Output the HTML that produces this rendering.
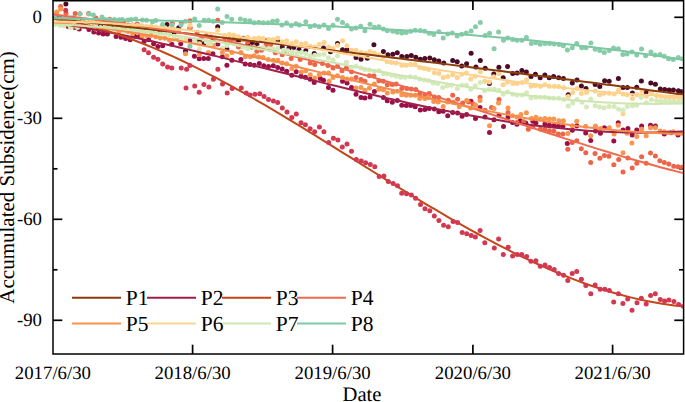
<!DOCTYPE html>
<html><head><meta charset="utf-8"><style>
html,body{margin:0;padding:0;background:#fff;}
svg{display:block;}
text{font-family:"Liberation Serif",serif;fill:#000;text-rendering:geometricPrecision;}
.tk{font-size:18.8px;}
.tt{font-size:20.6px;}
.yt{font-size:21px;}
.lg{font-size:21.5px;}
</style></head><body>
<svg width="685" height="402" viewBox="0 0 685 402">
<rect width="685" height="402" fill="#fff"/>
<line x1="53.0" y1="17.30" x2="62.3" y2="17.30" stroke="#000" stroke-width="1.7"/>
<line x1="683.6" y1="17.30" x2="674.3000000000001" y2="17.30" stroke="#000" stroke-width="1.7"/>
<line x1="53.0" y1="118.30" x2="62.3" y2="118.30" stroke="#000" stroke-width="1.7"/>
<line x1="683.6" y1="118.30" x2="674.3000000000001" y2="118.30" stroke="#000" stroke-width="1.7"/>
<line x1="53.0" y1="219.30" x2="62.3" y2="219.30" stroke="#000" stroke-width="1.7"/>
<line x1="683.6" y1="219.30" x2="674.3000000000001" y2="219.30" stroke="#000" stroke-width="1.7"/>
<line x1="53.0" y1="320.30" x2="62.3" y2="320.30" stroke="#000" stroke-width="1.7"/>
<line x1="683.6" y1="320.30" x2="674.3000000000001" y2="320.30" stroke="#000" stroke-width="1.7"/>
<line x1="53.0" y1="67.80" x2="57.5" y2="67.80" stroke="#000" stroke-width="1.7"/>
<line x1="683.6" y1="67.80" x2="679.1" y2="67.80" stroke="#000" stroke-width="1.7"/>
<line x1="53.0" y1="168.80" x2="57.5" y2="168.80" stroke="#000" stroke-width="1.7"/>
<line x1="683.6" y1="168.80" x2="679.1" y2="168.80" stroke="#000" stroke-width="1.7"/>
<line x1="53.0" y1="269.80" x2="57.5" y2="269.80" stroke="#000" stroke-width="1.7"/>
<line x1="683.6" y1="269.80" x2="679.1" y2="269.80" stroke="#000" stroke-width="1.7"/>
<line x1="192.6" y1="354.0" x2="192.6" y2="344.7" stroke="#000" stroke-width="1.7"/>
<line x1="192.6" y1="0.75" x2="192.6" y2="10.05" stroke="#000" stroke-width="1.7"/>
<line x1="332.6" y1="354.0" x2="332.6" y2="344.7" stroke="#000" stroke-width="1.7"/>
<line x1="332.6" y1="0.75" x2="332.6" y2="10.05" stroke="#000" stroke-width="1.7"/>
<line x1="472.9" y1="354.0" x2="472.9" y2="344.7" stroke="#000" stroke-width="1.7"/>
<line x1="472.9" y1="0.75" x2="472.9" y2="10.05" stroke="#000" stroke-width="1.7"/>
<line x1="612.6" y1="354.0" x2="612.6" y2="344.7" stroke="#000" stroke-width="1.7"/>
<line x1="612.6" y1="0.75" x2="612.6" y2="10.05" stroke="#000" stroke-width="1.7"/>
<defs><clipPath id="pc"><rect x="53.75" y="1.5" width="629.1" height="351.75"/></clipPath></defs>
<g clip-path="url(#pc)"><g fill="#4b0b26"><circle cx="65.9" cy="4.0" r="2.5"/><circle cx="167.0" cy="24.6" r="2.5"/><circle cx="185.5" cy="51.1" r="2.5"/><circle cx="190.0" cy="28.0" r="2.5"/><circle cx="199.4" cy="41.1" r="2.5"/><circle cx="203.8" cy="43.7" r="2.5"/><circle cx="213.4" cy="39.5" r="2.5"/><circle cx="217.7" cy="26.7" r="2.5"/><circle cx="226.9" cy="49.0" r="2.5"/><circle cx="277.8" cy="41.3" r="2.5"/><circle cx="282.2" cy="46.9" r="2.5"/><circle cx="289.0" cy="48.0" r="2.5"/><circle cx="299.0" cy="49.7" r="2.5"/><circle cx="305.8" cy="50.8" r="2.5"/><circle cx="314.2" cy="53.6" r="2.5"/><circle cx="323.5" cy="48.0" r="2.5"/><circle cx="337.5" cy="43.6" r="2.5"/><circle cx="342.5" cy="49.7" r="2.5"/><circle cx="347.0" cy="49.7" r="2.5"/><circle cx="356.0" cy="57.6" r="2.5"/><circle cx="361.0" cy="59.2" r="2.5"/><circle cx="373.9" cy="44.7" r="2.5"/><circle cx="383.4" cy="51.4" r="2.5"/><circle cx="387.9" cy="54.8" r="2.5"/><circle cx="392.8" cy="54.2" r="2.5"/><circle cx="397.3" cy="52.7" r="2.5"/><circle cx="401.8" cy="56.4" r="2.5"/><circle cx="406.8" cy="56.4" r="2.5"/><circle cx="411.3" cy="55.6" r="2.5"/><circle cx="415.8" cy="57.2" r="2.5"/><circle cx="420.3" cy="59.2" r="2.5"/><circle cx="424.8" cy="58.6" r="2.5"/><circle cx="429.8" cy="58.1" r="2.5"/><circle cx="434.3" cy="59.8" r="2.5"/><circle cx="438.8" cy="60.9" r="2.5"/><circle cx="443.8" cy="63.1" r="2.5"/><circle cx="452.7" cy="60.5" r="2.5"/><circle cx="457.2" cy="61.7" r="2.5"/><circle cx="461.7" cy="66.1" r="2.5"/><circle cx="466.6" cy="63.7" r="2.5"/><circle cx="471.1" cy="53.2" r="2.5"/><circle cx="475.9" cy="66.9" r="2.5"/><circle cx="480.3" cy="60.5" r="2.5"/><circle cx="485.2" cy="68.2" r="2.5"/><circle cx="489.4" cy="83.4" r="2.5"/><circle cx="493.8" cy="73.9" r="2.5"/><circle cx="498.9" cy="67.3" r="2.5"/><circle cx="503.2" cy="77.8" r="2.5"/><circle cx="507.6" cy="66.6" r="2.5"/><circle cx="512.7" cy="73.4" r="2.5"/><circle cx="517.1" cy="73.1" r="2.5"/><circle cx="521.9" cy="70.5" r="2.5"/><circle cx="526.4" cy="72.1" r="2.5"/><circle cx="531.0" cy="76.4" r="2.5"/><circle cx="535.4" cy="74.3" r="2.5"/><circle cx="540.2" cy="77.8" r="2.5"/><circle cx="544.9" cy="74.9" r="2.5"/><circle cx="549.2" cy="77.8" r="2.5"/><circle cx="553.6" cy="76.4" r="2.5"/><circle cx="558.7" cy="77.8" r="2.5"/><circle cx="563.4" cy="78.4" r="2.5"/><circle cx="568.2" cy="94.7" r="2.5"/><circle cx="572.3" cy="82.9" r="2.5"/><circle cx="577.0" cy="80.1" r="2.5"/><circle cx="581.4" cy="86.0" r="2.5"/><circle cx="586.0" cy="88.4" r="2.5"/><circle cx="595.2" cy="84.5" r="2.5"/><circle cx="599.8" cy="86.5" r="2.5"/><circle cx="604.6" cy="80.8" r="2.5"/><circle cx="609.2" cy="81.3" r="2.5"/><circle cx="618.4" cy="78.4" r="2.5"/><circle cx="623.0" cy="87.4" r="2.5"/><circle cx="627.4" cy="87.4" r="2.5"/><circle cx="632.4" cy="93.0" r="2.5"/><circle cx="636.7" cy="87.3" r="2.5"/><circle cx="641.4" cy="80.9" r="2.5"/><circle cx="646.0" cy="92.1" r="2.5"/><circle cx="650.8" cy="83.0" r="2.5"/><circle cx="655.4" cy="84.3" r="2.5"/><circle cx="660.3" cy="88.9" r="2.5"/><circle cx="664.7" cy="89.6" r="2.5"/><circle cx="669.1" cy="89.9" r="2.5"/><circle cx="673.4" cy="90.1" r="2.5"/><circle cx="678.4" cy="90.8" r="2.5"/><circle cx="681.5" cy="91.7" r="2.5"/><circle cx="54.5" cy="18.6" r="2.5"/><circle cx="59.1" cy="20.0" r="2.5"/><circle cx="72.9" cy="20.6" r="2.5"/><circle cx="77.5" cy="21.0" r="2.5"/><circle cx="82.1" cy="20.7" r="2.5"/><circle cx="86.7" cy="22.1" r="2.5"/><circle cx="91.3" cy="24.3" r="2.5"/><circle cx="95.9" cy="23.9" r="2.5"/><circle cx="100.5" cy="25.2" r="2.5"/><circle cx="105.1" cy="24.7" r="2.5"/><circle cx="109.7" cy="25.4" r="2.5"/><circle cx="114.3" cy="25.6" r="2.5"/><circle cx="118.9" cy="23.8" r="2.5"/><circle cx="123.5" cy="27.5" r="2.5"/><circle cx="128.1" cy="27.6" r="2.5"/><circle cx="132.7" cy="28.1" r="2.5"/><circle cx="137.3" cy="25.8" r="2.5"/><circle cx="141.9" cy="26.3" r="2.5"/><circle cx="146.5" cy="27.9" r="2.5"/><circle cx="151.1" cy="28.9" r="2.5"/><circle cx="155.7" cy="30.4" r="2.5"/><circle cx="160.3" cy="30.5" r="2.5"/><circle cx="174.1" cy="32.7" r="2.5"/><circle cx="178.7" cy="27.7" r="2.5"/><circle cx="233.9" cy="39.7" r="2.5"/><circle cx="238.5" cy="40.4" r="2.5"/><circle cx="243.1" cy="38.3" r="2.5"/><circle cx="247.7" cy="44.8" r="2.5"/><circle cx="252.3" cy="42.4" r="2.5"/><circle cx="256.9" cy="44.5" r="2.5"/><circle cx="261.5" cy="40.5" r="2.5"/><circle cx="266.1" cy="40.8" r="2.5"/><circle cx="270.7" cy="42.3" r="2.5"/><circle cx="293.7" cy="47.5" r="2.5"/><circle cx="330.5" cy="51.8" r="2.5"/><circle cx="367.3" cy="58.2" r="2.5"/></g>
<g fill="#9b0f47"><circle cx="75.0" cy="27.4" r="2.5"/><circle cx="79.2" cy="29.1" r="2.5"/><circle cx="88.9" cy="29.5" r="2.5"/><circle cx="93.8" cy="32.0" r="2.5"/><circle cx="98.6" cy="33.0" r="2.5"/><circle cx="103.1" cy="34.0" r="2.5"/><circle cx="107.4" cy="34.0" r="2.5"/><circle cx="116.1" cy="36.5" r="2.5"/><circle cx="121.0" cy="37.3" r="2.5"/><circle cx="125.6" cy="38.6" r="2.5"/><circle cx="130.1" cy="39.7" r="2.5"/><circle cx="134.6" cy="36.3" r="2.5"/><circle cx="139.4" cy="36.5" r="2.5"/><circle cx="144.1" cy="41.4" r="2.5"/><circle cx="148.6" cy="39.7" r="2.5"/><circle cx="153.6" cy="43.7" r="2.5"/><circle cx="157.9" cy="46.6" r="2.5"/><circle cx="162.6" cy="45.8" r="2.5"/><circle cx="171.8" cy="44.3" r="2.5"/><circle cx="180.7" cy="43.7" r="2.5"/><circle cx="189.9" cy="40.6" r="2.5"/><circle cx="194.4" cy="56.3" r="2.5"/><circle cx="199.2" cy="58.7" r="2.5"/><circle cx="203.8" cy="58.6" r="2.5"/><circle cx="208.3" cy="58.6" r="2.5"/><circle cx="212.9" cy="53.8" r="2.5"/><circle cx="217.9" cy="44.0" r="2.5"/><circle cx="222.4" cy="56.8" r="2.5"/><circle cx="226.9" cy="65.2" r="2.5"/><circle cx="231.9" cy="60.2" r="2.5"/><circle cx="240.9" cy="59.6" r="2.5"/><circle cx="245.2" cy="64.0" r="2.5"/><circle cx="250.1" cy="64.6" r="2.5"/><circle cx="254.3" cy="65.2" r="2.5"/><circle cx="259.3" cy="63.5" r="2.5"/><circle cx="263.8" cy="65.7" r="2.5"/><circle cx="268.5" cy="66.5" r="2.5"/><circle cx="273.3" cy="65.7" r="2.5"/><circle cx="277.7" cy="67.5" r="2.5"/><circle cx="282.2" cy="69.1" r="2.5"/><circle cx="286.7" cy="71.3" r="2.5"/><circle cx="291.8" cy="75.2" r="2.5"/><circle cx="296.2" cy="71.7" r="2.5"/><circle cx="301.0" cy="76.2" r="2.5"/><circle cx="305.4" cy="77.2" r="2.5"/><circle cx="310.2" cy="79.2" r="2.5"/><circle cx="314.2" cy="82.6" r="2.5"/><circle cx="320.3" cy="78.6" r="2.5"/><circle cx="323.5" cy="80.2" r="2.5"/><circle cx="328.5" cy="87.5" r="2.5"/><circle cx="333.0" cy="90.3" r="2.5"/><circle cx="342.5" cy="81.3" r="2.5"/><circle cx="347.0" cy="83.0" r="2.5"/><circle cx="351.5" cy="87.5" r="2.5"/><circle cx="356.0" cy="94.2" r="2.5"/><circle cx="361.0" cy="97.6" r="2.5"/><circle cx="364.9" cy="98.1" r="2.5"/><circle cx="370.0" cy="97.0" r="2.5"/><circle cx="374.4" cy="91.4" r="2.5"/><circle cx="383.4" cy="97.6" r="2.5"/><circle cx="387.2" cy="100.8" r="2.5"/><circle cx="392.3" cy="102.3" r="2.5"/><circle cx="397.3" cy="100.6" r="2.5"/><circle cx="401.8" cy="105.3" r="2.5"/><circle cx="406.3" cy="105.6" r="2.5"/><circle cx="410.8" cy="105.6" r="2.5"/><circle cx="415.2" cy="106.8" r="2.5"/><circle cx="420.3" cy="110.1" r="2.5"/><circle cx="424.8" cy="109.6" r="2.5"/><circle cx="429.2" cy="108.4" r="2.5"/><circle cx="434.3" cy="109.0" r="2.5"/><circle cx="438.8" cy="111.8" r="2.5"/><circle cx="443.2" cy="111.2" r="2.5"/><circle cx="447.7" cy="115.7" r="2.5"/><circle cx="452.7" cy="112.4" r="2.5"/><circle cx="457.6" cy="113.0" r="2.5"/><circle cx="462.1" cy="116.3" r="2.5"/><circle cx="466.6" cy="114.6" r="2.5"/><circle cx="471.0" cy="101.2" r="2.5"/><circle cx="475.5" cy="118.6" r="2.5"/><circle cx="480.0" cy="107.4" r="2.5"/><circle cx="485.0" cy="116.9" r="2.5"/><circle cx="489.5" cy="132.6" r="2.5"/><circle cx="494.0" cy="119.7" r="2.5"/><circle cx="499.0" cy="115.2" r="2.5"/><circle cx="503.5" cy="126.4" r="2.5"/><circle cx="508.0" cy="116.9" r="2.5"/><circle cx="512.5" cy="122.5" r="2.5"/><circle cx="516.9" cy="124.2" r="2.5"/><circle cx="520.2" cy="120.7" r="2.5"/><circle cx="525.8" cy="122.9" r="2.5"/><circle cx="535.9" cy="122.9" r="2.5"/><circle cx="544.9" cy="124.0" r="2.5"/><circle cx="549.4" cy="125.2" r="2.5"/><circle cx="553.8" cy="125.7" r="2.5"/><circle cx="558.3" cy="126.3" r="2.5"/><circle cx="562.8" cy="126.3" r="2.5"/><circle cx="567.3" cy="143.6" r="2.5"/><circle cx="572.3" cy="130.2" r="2.5"/><circle cx="576.8" cy="125.7" r="2.5"/><circle cx="585.7" cy="133.0" r="2.5"/><circle cx="590.7" cy="140.6" r="2.5"/><circle cx="595.5" cy="130.9" r="2.5"/><circle cx="600.4" cy="133.3" r="2.5"/><circle cx="604.4" cy="127.7" r="2.5"/><circle cx="613.8" cy="140.9" r="2.5"/><circle cx="618.2" cy="122.8" r="2.5"/><circle cx="623.0" cy="130.1" r="2.5"/><circle cx="627.9" cy="128.5" r="2.5"/><circle cx="632.2" cy="134.9" r="2.5"/><circle cx="636.8" cy="130.1" r="2.5"/><circle cx="641.6" cy="126.0" r="2.5"/><circle cx="650.5" cy="125.2" r="2.5"/><circle cx="655.4" cy="126.0" r="2.5"/><circle cx="664.3" cy="134.1" r="2.5"/><circle cx="678.0" cy="134.9" r="2.5"/><circle cx="54.5" cy="22.1" r="2.5"/><circle cx="59.1" cy="22.2" r="2.5"/><circle cx="63.7" cy="23.5" r="2.5"/><circle cx="68.3" cy="26.4" r="2.5"/><circle cx="532.9" cy="121.3" r="2.5"/><circle cx="670.9" cy="132.7" r="2.5"/></g>
<g fill="#ed6548"><circle cx="60.6" cy="6.4" r="2.5"/><circle cx="66.0" cy="13.2" r="2.5"/><circle cx="75.2" cy="13.5" r="2.5"/><circle cx="79.9" cy="13.8" r="2.5"/><circle cx="88.7" cy="13.5" r="2.5"/><circle cx="172.3" cy="23.0" r="2.5"/><circle cx="181.3" cy="23.0" r="2.5"/><circle cx="190.0" cy="20.7" r="2.5"/><circle cx="217.7" cy="20.2" r="2.5"/><circle cx="282.2" cy="54.7" r="2.5"/><circle cx="286.7" cy="52.5" r="2.5"/><circle cx="291.2" cy="58.4" r="2.5"/><circle cx="300.2" cy="59.6" r="2.5"/><circle cx="310.2" cy="62.9" r="2.5"/><circle cx="314.7" cy="64.6" r="2.5"/><circle cx="322.4" cy="63.4" r="2.5"/><circle cx="328.0" cy="65.6" r="2.5"/><circle cx="333.0" cy="67.9" r="2.5"/><circle cx="337.5" cy="66.2" r="2.5"/><circle cx="342.0" cy="70.7" r="2.5"/><circle cx="346.4" cy="67.9" r="2.5"/><circle cx="351.5" cy="71.8" r="2.5"/><circle cx="356.0" cy="77.4" r="2.5"/><circle cx="361.0" cy="79.6" r="2.5"/><circle cx="364.9" cy="81.3" r="2.5"/><circle cx="369.4" cy="75.7" r="2.5"/><circle cx="373.9" cy="75.7" r="2.5"/><circle cx="378.9" cy="80.8" r="2.5"/><circle cx="383.4" cy="81.3" r="2.5"/><circle cx="387.3" cy="84.7" r="2.5"/><circle cx="392.3" cy="84.6" r="2.5"/><circle cx="396.2" cy="84.0" r="2.5"/><circle cx="401.8" cy="88.5" r="2.5"/><circle cx="406.8" cy="88.5" r="2.5"/><circle cx="411.3" cy="89.1" r="2.5"/><circle cx="415.8" cy="89.6" r="2.5"/><circle cx="419.7" cy="94.1" r="2.5"/><circle cx="424.8" cy="94.7" r="2.5"/><circle cx="429.2" cy="93.6" r="2.5"/><circle cx="434.3" cy="96.9" r="2.5"/><circle cx="438.8" cy="97.5" r="2.5"/><circle cx="448.3" cy="100.3" r="2.5"/><circle cx="452.7" cy="95.2" r="2.5"/><circle cx="457.6" cy="99.2" r="2.5"/><circle cx="462.6" cy="102.9" r="2.5"/><circle cx="480.0" cy="97.3" r="2.5"/><circle cx="485.0" cy="110.2" r="2.5"/><circle cx="499.0" cy="99.5" r="2.5"/><circle cx="508.0" cy="112.4" r="2.5"/><circle cx="516.9" cy="122.5" r="2.5"/><circle cx="523.6" cy="121.8" r="2.5"/><circle cx="540.4" cy="129.1" r="2.5"/><circle cx="544.9" cy="129.6" r="2.5"/><circle cx="549.4" cy="130.8" r="2.5"/><circle cx="553.8" cy="131.3" r="2.5"/><circle cx="558.3" cy="134.1" r="2.5"/><circle cx="562.8" cy="134.1" r="2.5"/><circle cx="567.8" cy="149.2" r="2.5"/><circle cx="572.3" cy="142.5" r="2.5"/><circle cx="576.8" cy="140.8" r="2.5"/><circle cx="581.3" cy="148.7" r="2.5"/><circle cx="585.8" cy="152.7" r="2.5"/><circle cx="590.7" cy="162.4" r="2.5"/><circle cx="595.0" cy="153.5" r="2.5"/><circle cx="599.9" cy="158.3" r="2.5"/><circle cx="604.4" cy="155.5" r="2.5"/><circle cx="608.9" cy="156.2" r="2.5"/><circle cx="613.8" cy="164.8" r="2.5"/><circle cx="618.7" cy="159.4" r="2.5"/><circle cx="623.0" cy="172.1" r="2.5"/><circle cx="627.9" cy="158.1" r="2.5"/><circle cx="632.2" cy="168.0" r="2.5"/><circle cx="636.8" cy="163.2" r="2.5"/><circle cx="641.6" cy="156.7" r="2.5"/><circle cx="646.2" cy="163.2" r="2.5"/><circle cx="650.5" cy="153.0" r="2.5"/><circle cx="655.4" cy="155.9" r="2.5"/><circle cx="659.8" cy="160.7" r="2.5"/><circle cx="664.3" cy="162.4" r="2.5"/><circle cx="668.8" cy="164.0" r="2.5"/><circle cx="673.7" cy="166.2" r="2.5"/><circle cx="678.0" cy="166.8" r="2.5"/><circle cx="682.1" cy="167.3" r="2.5"/><circle cx="54.5" cy="15.1" r="2.5"/><circle cx="95.9" cy="18.0" r="2.5"/><circle cx="100.5" cy="20.5" r="2.5"/><circle cx="105.1" cy="22.7" r="2.5"/><circle cx="109.7" cy="19.2" r="2.5"/><circle cx="114.3" cy="21.9" r="2.5"/><circle cx="118.9" cy="22.9" r="2.5"/><circle cx="123.5" cy="22.6" r="2.5"/><circle cx="128.1" cy="24.9" r="2.5"/><circle cx="132.7" cy="24.9" r="2.5"/><circle cx="137.3" cy="23.9" r="2.5"/><circle cx="141.9" cy="27.4" r="2.5"/><circle cx="146.5" cy="27.9" r="2.5"/><circle cx="151.1" cy="29.0" r="2.5"/><circle cx="155.7" cy="30.3" r="2.5"/><circle cx="160.3" cy="29.7" r="2.5"/><circle cx="164.9" cy="30.2" r="2.5"/><circle cx="197.1" cy="32.4" r="2.5"/><circle cx="201.7" cy="38.0" r="2.5"/><circle cx="206.3" cy="35.8" r="2.5"/><circle cx="210.9" cy="37.1" r="2.5"/><circle cx="224.7" cy="37.8" r="2.5"/><circle cx="229.3" cy="39.5" r="2.5"/><circle cx="233.9" cy="41.5" r="2.5"/><circle cx="238.5" cy="47.0" r="2.5"/><circle cx="243.1" cy="39.7" r="2.5"/><circle cx="247.7" cy="42.1" r="2.5"/><circle cx="252.3" cy="47.3" r="2.5"/><circle cx="256.9" cy="51.3" r="2.5"/><circle cx="261.5" cy="50.2" r="2.5"/><circle cx="266.1" cy="45.0" r="2.5"/><circle cx="270.7" cy="44.5" r="2.5"/><circle cx="275.3" cy="52.8" r="2.5"/><circle cx="468.5" cy="102.1" r="2.5"/><circle cx="473.1" cy="104.1" r="2.5"/><circle cx="491.5" cy="107.5" r="2.5"/><circle cx="528.3" cy="129.3" r="2.5"/><circle cx="532.9" cy="126.8" r="2.5"/></g>
<g fill="#f8954f"><circle cx="56.8" cy="12.0" r="2.5"/><circle cx="60.6" cy="8.9" r="2.5"/><circle cx="185.5" cy="53.8" r="2.5"/><circle cx="190.0" cy="27.5" r="2.5"/><circle cx="199.4" cy="54.6" r="2.5"/><circle cx="208.4" cy="52.4" r="2.5"/><circle cx="213.4" cy="45.6" r="2.5"/><circle cx="222.4" cy="52.4" r="2.5"/><circle cx="226.9" cy="55.7" r="2.5"/><circle cx="231.9" cy="52.4" r="2.5"/><circle cx="240.9" cy="52.4" r="2.5"/><circle cx="245.4" cy="56.8" r="2.5"/><circle cx="250.4" cy="56.8" r="2.5"/><circle cx="254.2" cy="55.8" r="2.5"/><circle cx="258.7" cy="57.0" r="2.5"/><circle cx="263.2" cy="57.5" r="2.5"/><circle cx="268.2" cy="59.6" r="2.5"/><circle cx="273.3" cy="60.3" r="2.5"/><circle cx="277.8" cy="60.3" r="2.5"/><circle cx="282.2" cy="63.1" r="2.5"/><circle cx="286.7" cy="63.7" r="2.5"/><circle cx="291.8" cy="68.5" r="2.5"/><circle cx="296.2" cy="66.3" r="2.5"/><circle cx="301.3" cy="71.9" r="2.5"/><circle cx="305.8" cy="70.8" r="2.5"/><circle cx="310.2" cy="74.7" r="2.5"/><circle cx="314.7" cy="78.0" r="2.5"/><circle cx="319.2" cy="74.7" r="2.5"/><circle cx="324.0" cy="72.9" r="2.5"/><circle cx="328.5" cy="72.9" r="2.5"/><circle cx="329.1" cy="81.3" r="2.5"/><circle cx="333.0" cy="77.4" r="2.5"/><circle cx="337.5" cy="75.7" r="2.5"/><circle cx="342.5" cy="77.4" r="2.5"/><circle cx="347.0" cy="79.1" r="2.5"/><circle cx="351.5" cy="79.1" r="2.5"/><circle cx="356.0" cy="88.0" r="2.5"/><circle cx="361.0" cy="87.5" r="2.5"/><circle cx="364.9" cy="90.3" r="2.5"/><circle cx="369.4" cy="88.0" r="2.5"/><circle cx="374.4" cy="84.1" r="2.5"/><circle cx="378.9" cy="89.2" r="2.5"/><circle cx="383.4" cy="89.7" r="2.5"/><circle cx="387.3" cy="93.1" r="2.5"/><circle cx="392.8" cy="91.9" r="2.5"/><circle cx="397.3" cy="91.3" r="2.5"/><circle cx="401.8" cy="94.7" r="2.5"/><circle cx="406.3" cy="95.2" r="2.5"/><circle cx="410.8" cy="95.2" r="2.5"/><circle cx="415.2" cy="95.2" r="2.5"/><circle cx="419.7" cy="98.6" r="2.5"/><circle cx="424.8" cy="98.6" r="2.5"/><circle cx="428.7" cy="97.5" r="2.5"/><circle cx="433.7" cy="101.4" r="2.5"/><circle cx="438.2" cy="102.0" r="2.5"/><circle cx="443.2" cy="106.4" r="2.5"/><circle cx="447.7" cy="102.0" r="2.5"/><circle cx="453.3" cy="102.0" r="2.5"/><circle cx="466.6" cy="100.6" r="2.5"/><circle cx="470.5" cy="107.9" r="2.5"/><circle cx="475.5" cy="105.1" r="2.5"/><circle cx="480.0" cy="100.6" r="2.5"/><circle cx="489.5" cy="125.8" r="2.5"/><circle cx="494.0" cy="108.5" r="2.5"/><circle cx="498.5" cy="102.9" r="2.5"/><circle cx="508.0" cy="107.9" r="2.5"/><circle cx="512.5" cy="115.8" r="2.5"/><circle cx="516.9" cy="116.9" r="2.5"/><circle cx="520.9" cy="114.6" r="2.5"/><circle cx="526.4" cy="112.8" r="2.5"/><circle cx="531.4" cy="118.4" r="2.5"/><circle cx="535.9" cy="117.3" r="2.5"/><circle cx="540.4" cy="119.0" r="2.5"/><circle cx="544.9" cy="118.4" r="2.5"/><circle cx="549.4" cy="119.0" r="2.5"/><circle cx="553.8" cy="119.0" r="2.5"/><circle cx="558.9" cy="120.7" r="2.5"/><circle cx="563.4" cy="120.7" r="2.5"/><circle cx="567.8" cy="133.6" r="2.5"/><circle cx="572.3" cy="125.7" r="2.5"/><circle cx="576.8" cy="121.2" r="2.5"/><circle cx="585.7" cy="126.3" r="2.5"/><circle cx="590.7" cy="135.7" r="2.5"/><circle cx="595.5" cy="126.0" r="2.5"/><circle cx="600.4" cy="128.5" r="2.5"/><circle cx="609.3" cy="127.7" r="2.5"/><circle cx="614.1" cy="134.1" r="2.5"/><circle cx="618.2" cy="125.2" r="2.5"/><circle cx="623.0" cy="152.7" r="2.5"/><circle cx="627.1" cy="133.3" r="2.5"/><circle cx="631.9" cy="143.0" r="2.5"/><circle cx="636.8" cy="136.6" r="2.5"/><circle cx="641.6" cy="129.3" r="2.5"/><circle cx="646.2" cy="135.7" r="2.5"/><circle cx="650.5" cy="127.7" r="2.5"/><circle cx="655.4" cy="127.7" r="2.5"/><circle cx="660.2" cy="130.9" r="2.5"/><circle cx="664.3" cy="131.7" r="2.5"/><circle cx="669.1" cy="132.5" r="2.5"/><circle cx="673.2" cy="131.7" r="2.5"/><circle cx="678.0" cy="133.3" r="2.5"/><circle cx="682.1" cy="133.3" r="2.5"/><circle cx="63.7" cy="24.1" r="2.5"/><circle cx="68.3" cy="24.7" r="2.5"/><circle cx="72.9" cy="26.6" r="2.5"/><circle cx="77.5" cy="25.9" r="2.5"/><circle cx="82.1" cy="26.3" r="2.5"/><circle cx="86.7" cy="26.8" r="2.5"/><circle cx="91.3" cy="24.8" r="2.5"/><circle cx="95.9" cy="28.9" r="2.5"/><circle cx="100.5" cy="29.1" r="2.5"/><circle cx="105.1" cy="29.1" r="2.5"/><circle cx="109.7" cy="26.6" r="2.5"/><circle cx="114.3" cy="29.0" r="2.5"/><circle cx="118.9" cy="31.5" r="2.5"/><circle cx="123.5" cy="28.8" r="2.5"/><circle cx="128.1" cy="31.6" r="2.5"/><circle cx="132.7" cy="33.8" r="2.5"/><circle cx="137.3" cy="31.6" r="2.5"/><circle cx="141.9" cy="36.0" r="2.5"/><circle cx="146.5" cy="35.5" r="2.5"/><circle cx="151.1" cy="35.4" r="2.5"/><circle cx="155.7" cy="36.8" r="2.5"/><circle cx="160.3" cy="38.0" r="2.5"/><circle cx="164.9" cy="38.2" r="2.5"/><circle cx="169.5" cy="40.3" r="2.5"/><circle cx="174.1" cy="38.9" r="2.5"/><circle cx="178.7" cy="40.1" r="2.5"/><circle cx="459.3" cy="106.8" r="2.5"/></g>
<g fill="#fdd28c"><circle cx="185.5" cy="40.3" r="2.5"/><circle cx="190.0" cy="24.9" r="2.5"/><circle cx="199.4" cy="43.7" r="2.5"/><circle cx="208.4" cy="42.8" r="2.5"/><circle cx="217.7" cy="30.0" r="2.5"/><circle cx="254.2" cy="38.5" r="2.5"/><circle cx="258.7" cy="37.9" r="2.5"/><circle cx="263.2" cy="38.5" r="2.5"/><circle cx="268.8" cy="39.6" r="2.5"/><circle cx="273.3" cy="39.6" r="2.5"/><circle cx="277.8" cy="37.9" r="2.5"/><circle cx="282.2" cy="41.8" r="2.5"/><circle cx="286.7" cy="40.7" r="2.5"/><circle cx="291.8" cy="43.5" r="2.5"/><circle cx="296.2" cy="41.8" r="2.5"/><circle cx="301.3" cy="44.1" r="2.5"/><circle cx="305.8" cy="43.5" r="2.5"/><circle cx="310.2" cy="46.3" r="2.5"/><circle cx="314.7" cy="46.9" r="2.5"/><circle cx="319.2" cy="44.6" r="2.5"/><circle cx="324.0" cy="42.4" r="2.5"/><circle cx="328.5" cy="46.9" r="2.5"/><circle cx="333.0" cy="48.6" r="2.5"/><circle cx="337.5" cy="45.2" r="2.5"/><circle cx="342.5" cy="40.8" r="2.5"/><circle cx="347.0" cy="45.8" r="2.5"/><circle cx="351.5" cy="50.3" r="2.5"/><circle cx="356.0" cy="50.3" r="2.5"/><circle cx="361.0" cy="52.5" r="2.5"/><circle cx="365.5" cy="53.6" r="2.5"/><circle cx="370.0" cy="51.4" r="2.5"/><circle cx="374.4" cy="53.1" r="2.5"/><circle cx="378.9" cy="54.8" r="2.5"/><circle cx="383.4" cy="57.0" r="2.5"/><circle cx="387.2" cy="61.8" r="2.5"/><circle cx="391.7" cy="62.4" r="2.5"/><circle cx="396.2" cy="62.9" r="2.5"/><circle cx="401.8" cy="65.2" r="2.5"/><circle cx="406.3" cy="65.2" r="2.5"/><circle cx="410.8" cy="64.6" r="2.5"/><circle cx="415.2" cy="64.6" r="2.5"/><circle cx="419.7" cy="67.4" r="2.5"/><circle cx="424.2" cy="68.5" r="2.5"/><circle cx="428.7" cy="69.5" r="2.5"/><circle cx="434.3" cy="72.8" r="2.5"/><circle cx="438.8" cy="73.4" r="2.5"/><circle cx="443.2" cy="77.5" r="2.5"/><circle cx="447.7" cy="76.4" r="2.5"/><circle cx="452.7" cy="74.7" r="2.5"/><circle cx="457.2" cy="77.4" r="2.5"/><circle cx="461.7" cy="74.2" r="2.5"/><circle cx="466.3" cy="72.9" r="2.5"/><circle cx="470.8" cy="79.1" r="2.5"/><circle cx="475.2" cy="76.3" r="2.5"/><circle cx="480.3" cy="71.8" r="2.5"/><circle cx="484.8" cy="81.3" r="2.5"/><circle cx="489.2" cy="81.9" r="2.5"/><circle cx="493.8" cy="76.8" r="2.5"/><circle cx="498.8" cy="73.5" r="2.5"/><circle cx="503.2" cy="84.7" r="2.5"/><circle cx="507.6" cy="81.9" r="2.5"/><circle cx="512.7" cy="83.4" r="2.5"/><circle cx="517.1" cy="83.4" r="2.5"/><circle cx="522.2" cy="82.6" r="2.5"/><circle cx="526.6" cy="79.7" r="2.5"/><circle cx="531.0" cy="86.3" r="2.5"/><circle cx="535.4" cy="85.5" r="2.5"/><circle cx="540.5" cy="86.3" r="2.5"/><circle cx="544.9" cy="84.8" r="2.5"/><circle cx="549.2" cy="86.3" r="2.5"/><circle cx="554.3" cy="86.3" r="2.5"/><circle cx="558.7" cy="86.6" r="2.5"/><circle cx="563.8" cy="87.7" r="2.5"/><circle cx="568.2" cy="96.5" r="2.5"/><circle cx="572.6" cy="92.4" r="2.5"/><circle cx="577.0" cy="88.5" r="2.5"/><circle cx="581.4" cy="93.6" r="2.5"/><circle cx="586.5" cy="92.5" r="2.5"/><circle cx="595.2" cy="91.1" r="2.5"/><circle cx="599.6" cy="94.7" r="2.5"/><circle cx="604.0" cy="93.2" r="2.5"/><circle cx="609.1" cy="93.2" r="2.5"/><circle cx="614.2" cy="94.0" r="2.5"/><circle cx="618.6" cy="90.3" r="2.5"/><circle cx="623.0" cy="94.0" r="2.5"/><circle cx="623.0" cy="113.7" r="2.5"/><circle cx="627.3" cy="94.7" r="2.5"/><circle cx="632.4" cy="98.4" r="2.5"/><circle cx="636.8" cy="94.7" r="2.5"/><circle cx="641.9" cy="91.1" r="2.5"/><circle cx="646.3" cy="96.2" r="2.5"/><circle cx="651.4" cy="93.2" r="2.5"/><circle cx="656.5" cy="95.4" r="2.5"/><circle cx="660.9" cy="96.2" r="2.5"/><circle cx="665.3" cy="96.9" r="2.5"/><circle cx="669.7" cy="96.9" r="2.5"/><circle cx="674.1" cy="97.6" r="2.5"/><circle cx="678.4" cy="97.6" r="2.5"/><circle cx="682.1" cy="97.6" r="2.5"/><circle cx="54.5" cy="21.7" r="2.5"/><circle cx="59.1" cy="20.8" r="2.5"/><circle cx="63.7" cy="22.7" r="2.5"/><circle cx="68.3" cy="23.2" r="2.5"/><circle cx="72.9" cy="21.4" r="2.5"/><circle cx="77.5" cy="20.6" r="2.5"/><circle cx="82.1" cy="22.0" r="2.5"/><circle cx="86.7" cy="22.1" r="2.5"/><circle cx="91.3" cy="22.1" r="2.5"/><circle cx="95.9" cy="24.0" r="2.5"/><circle cx="100.5" cy="21.8" r="2.5"/><circle cx="105.1" cy="24.3" r="2.5"/><circle cx="109.7" cy="22.1" r="2.5"/><circle cx="114.3" cy="22.8" r="2.5"/><circle cx="118.9" cy="24.5" r="2.5"/><circle cx="123.5" cy="25.3" r="2.5"/><circle cx="128.1" cy="25.4" r="2.5"/><circle cx="132.7" cy="25.2" r="2.5"/><circle cx="137.3" cy="25.4" r="2.5"/><circle cx="141.9" cy="25.7" r="2.5"/><circle cx="146.5" cy="26.6" r="2.5"/><circle cx="151.1" cy="26.2" r="2.5"/><circle cx="155.7" cy="27.1" r="2.5"/><circle cx="160.3" cy="27.8" r="2.5"/><circle cx="164.9" cy="27.7" r="2.5"/><circle cx="169.5" cy="28.9" r="2.5"/><circle cx="174.1" cy="29.2" r="2.5"/><circle cx="178.7" cy="31.1" r="2.5"/><circle cx="224.7" cy="35.4" r="2.5"/><circle cx="229.3" cy="34.6" r="2.5"/><circle cx="233.9" cy="35.3" r="2.5"/><circle cx="238.5" cy="36.7" r="2.5"/><circle cx="243.1" cy="39.2" r="2.5"/><circle cx="247.7" cy="37.3" r="2.5"/></g>
<g fill="#d5eabb"><circle cx="55.0" cy="24.5" r="2.5"/><circle cx="60.0" cy="25.5" r="2.5"/><circle cx="70.5" cy="27.4" r="2.5"/><circle cx="180.7" cy="39.0" r="2.5"/><circle cx="189.9" cy="46.2" r="2.5"/><circle cx="195.0" cy="41.6" r="2.5"/><circle cx="199.4" cy="49.0" r="2.5"/><circle cx="222.4" cy="47.9" r="2.5"/><circle cx="226.9" cy="45.6" r="2.5"/><circle cx="254.2" cy="47.4" r="2.5"/><circle cx="258.7" cy="48.0" r="2.5"/><circle cx="263.2" cy="47.4" r="2.5"/><circle cx="268.8" cy="48.6" r="2.5"/><circle cx="273.3" cy="49.1" r="2.5"/><circle cx="277.8" cy="48.6" r="2.5"/><circle cx="283.4" cy="50.2" r="2.5"/><circle cx="287.8" cy="50.8" r="2.5"/><circle cx="292.3" cy="51.9" r="2.5"/><circle cx="296.8" cy="52.5" r="2.5"/><circle cx="301.3" cy="52.5" r="2.5"/><circle cx="305.8" cy="53.6" r="2.5"/><circle cx="310.2" cy="55.8" r="2.5"/><circle cx="314.7" cy="55.3" r="2.5"/><circle cx="319.2" cy="54.7" r="2.5"/><circle cx="324.0" cy="54.2" r="2.5"/><circle cx="328.5" cy="57.8" r="2.5"/><circle cx="333.0" cy="60.0" r="2.5"/><circle cx="337.5" cy="55.9" r="2.5"/><circle cx="346.4" cy="62.3" r="2.5"/><circle cx="351.5" cy="67.3" r="2.5"/><circle cx="356.0" cy="66.2" r="2.5"/><circle cx="361.0" cy="67.9" r="2.5"/><circle cx="364.9" cy="69.6" r="2.5"/><circle cx="369.4" cy="70.1" r="2.5"/><circle cx="374.4" cy="71.2" r="2.5"/><circle cx="378.9" cy="70.7" r="2.5"/><circle cx="383.4" cy="73.5" r="2.5"/><circle cx="387.2" cy="74.1" r="2.5"/><circle cx="391.7" cy="75.2" r="2.5"/><circle cx="396.2" cy="76.2" r="2.5"/><circle cx="400.7" cy="77.3" r="2.5"/><circle cx="405.2" cy="77.3" r="2.5"/><circle cx="410.2" cy="76.8" r="2.5"/><circle cx="415.2" cy="77.3" r="2.5"/><circle cx="419.7" cy="79.0" r="2.5"/><circle cx="424.2" cy="80.1" r="2.5"/><circle cx="428.7" cy="80.7" r="2.5"/><circle cx="433.2" cy="82.9" r="2.5"/><circle cx="437.6" cy="83.5" r="2.5"/><circle cx="442.7" cy="87.4" r="2.5"/><circle cx="447.2" cy="85.7" r="2.5"/><circle cx="451.6" cy="85.2" r="2.5"/><circle cx="457.3" cy="88.6" r="2.5"/><circle cx="461.8" cy="85.2" r="2.5"/><circle cx="466.3" cy="85.2" r="2.5"/><circle cx="470.8" cy="89.2" r="2.5"/><circle cx="475.2" cy="85.8" r="2.5"/><circle cx="480.3" cy="82.4" r="2.5"/><circle cx="484.8" cy="90.8" r="2.5"/><circle cx="489.2" cy="89.2" r="2.5"/><circle cx="494.3" cy="89.2" r="2.5"/><circle cx="498.8" cy="90.3" r="2.5"/><circle cx="503.2" cy="94.2" r="2.5"/><circle cx="507.6" cy="92.1" r="2.5"/><circle cx="512.7" cy="94.3" r="2.5"/><circle cx="517.1" cy="95.0" r="2.5"/><circle cx="522.2" cy="95.0" r="2.5"/><circle cx="526.6" cy="92.8" r="2.5"/><circle cx="531.0" cy="98.0" r="2.5"/><circle cx="536.1" cy="97.2" r="2.5"/><circle cx="540.5" cy="97.2" r="2.5"/><circle cx="544.9" cy="97.2" r="2.5"/><circle cx="549.2" cy="98.0" r="2.5"/><circle cx="553.6" cy="98.2" r="2.5"/><circle cx="558.7" cy="98.2" r="2.5"/><circle cx="563.8" cy="99.4" r="2.5"/><circle cx="568.2" cy="106.0" r="2.5"/><circle cx="572.6" cy="103.1" r="2.5"/><circle cx="577.0" cy="99.4" r="2.5"/><circle cx="582.1" cy="102.3" r="2.5"/><circle cx="586.5" cy="107.1" r="2.5"/><circle cx="590.8" cy="99.1" r="2.5"/><circle cx="595.2" cy="105.7" r="2.5"/><circle cx="599.6" cy="107.1" r="2.5"/><circle cx="604.0" cy="107.8" r="2.5"/><circle cx="609.1" cy="106.4" r="2.5"/><circle cx="614.2" cy="106.4" r="2.5"/><circle cx="618.6" cy="109.3" r="2.5"/><circle cx="623.0" cy="110.0" r="2.5"/><circle cx="627.3" cy="106.4" r="2.5"/><circle cx="632.4" cy="105.7" r="2.5"/><circle cx="636.8" cy="104.9" r="2.5"/><circle cx="641.2" cy="97.6" r="2.5"/><circle cx="646.3" cy="102.7" r="2.5"/><circle cx="651.4" cy="99.8" r="2.5"/><circle cx="656.5" cy="100.5" r="2.5"/><circle cx="660.9" cy="101.3" r="2.5"/><circle cx="665.3" cy="101.3" r="2.5"/><circle cx="669.7" cy="101.3" r="2.5"/><circle cx="674.1" cy="102.0" r="2.5"/><circle cx="678.4" cy="102.0" r="2.5"/><circle cx="682.1" cy="102.0" r="2.5"/><circle cx="63.7" cy="25.8" r="2.5"/><circle cx="77.5" cy="27.4" r="2.5"/><circle cx="82.1" cy="23.2" r="2.5"/><circle cx="86.7" cy="25.0" r="2.5"/><circle cx="91.3" cy="26.7" r="2.5"/><circle cx="95.9" cy="27.2" r="2.5"/><circle cx="100.5" cy="27.4" r="2.5"/><circle cx="105.1" cy="27.1" r="2.5"/><circle cx="109.7" cy="28.6" r="2.5"/><circle cx="114.3" cy="28.6" r="2.5"/><circle cx="118.9" cy="28.2" r="2.5"/><circle cx="123.5" cy="31.6" r="2.5"/><circle cx="128.1" cy="30.0" r="2.5"/><circle cx="132.7" cy="29.6" r="2.5"/><circle cx="137.3" cy="30.6" r="2.5"/><circle cx="141.9" cy="31.0" r="2.5"/><circle cx="146.5" cy="31.7" r="2.5"/><circle cx="151.1" cy="29.6" r="2.5"/><circle cx="155.7" cy="32.4" r="2.5"/><circle cx="160.3" cy="34.4" r="2.5"/><circle cx="164.9" cy="32.9" r="2.5"/><circle cx="169.5" cy="34.6" r="2.5"/><circle cx="174.1" cy="36.2" r="2.5"/><circle cx="206.3" cy="41.7" r="2.5"/><circle cx="210.9" cy="43.7" r="2.5"/><circle cx="215.5" cy="38.1" r="2.5"/><circle cx="233.9" cy="43.8" r="2.5"/><circle cx="238.5" cy="44.6" r="2.5"/><circle cx="243.1" cy="47.3" r="2.5"/><circle cx="247.7" cy="49.1" r="2.5"/></g>
<g fill="#87cca8"><circle cx="80.0" cy="14.0" r="2.5"/><circle cx="89.0" cy="14.0" r="2.5"/><circle cx="93.4" cy="15.1" r="2.5"/><circle cx="102.0" cy="17.0" r="2.5"/><circle cx="122.2" cy="19.5" r="2.5"/><circle cx="131.2" cy="19.5" r="2.5"/><circle cx="135.7" cy="19.0" r="2.5"/><circle cx="142.4" cy="20.1" r="2.5"/><circle cx="152.5" cy="21.8" r="2.5"/><circle cx="162.6" cy="24.6" r="2.5"/><circle cx="172.1" cy="25.1" r="2.5"/><circle cx="181.0" cy="25.1" r="2.5"/><circle cx="185.5" cy="21.2" r="2.5"/><circle cx="189.9" cy="46.2" r="2.5"/><circle cx="194.7" cy="19.0" r="2.5"/><circle cx="199.2" cy="25.5" r="2.5"/><circle cx="204.2" cy="20.2" r="2.5"/><circle cx="208.7" cy="20.2" r="2.5"/><circle cx="213.2" cy="21.3" r="2.5"/><circle cx="217.7" cy="9.0" r="2.5"/><circle cx="222.2" cy="22.4" r="2.5"/><circle cx="227.0" cy="16.4" r="2.5"/><circle cx="231.7" cy="19.2" r="2.5"/><circle cx="240.4" cy="19.0" r="2.5"/><circle cx="245.1" cy="20.2" r="2.5"/><circle cx="249.8" cy="20.8" r="2.5"/><circle cx="254.2" cy="22.8" r="2.5"/><circle cx="258.7" cy="22.2" r="2.5"/><circle cx="263.2" cy="22.8" r="2.5"/><circle cx="267.9" cy="22.7" r="2.5"/><circle cx="272.6" cy="21.3" r="2.5"/><circle cx="277.2" cy="20.8" r="2.5"/><circle cx="281.9" cy="24.9" r="2.5"/><circle cx="286.6" cy="23.1" r="2.5"/><circle cx="291.3" cy="25.4" r="2.5"/><circle cx="295.9" cy="23.7" r="2.5"/><circle cx="299.4" cy="24.9" r="2.5"/><circle cx="305.8" cy="21.7" r="2.5"/><circle cx="310.2" cy="26.7" r="2.5"/><circle cx="314.7" cy="25.6" r="2.5"/><circle cx="319.2" cy="26.7" r="2.5"/><circle cx="324.0" cy="24.9" r="2.5"/><circle cx="328.5" cy="28.4" r="2.5"/><circle cx="333.0" cy="25.3" r="2.5"/><circle cx="337.5" cy="19.3" r="2.5"/><circle cx="342.5" cy="22.6" r="2.5"/><circle cx="347.0" cy="25.6" r="2.5"/><circle cx="351.5" cy="29.0" r="2.5"/><circle cx="356.0" cy="27.9" r="2.5"/><circle cx="360.7" cy="26.2" r="2.5"/><circle cx="364.9" cy="30.7" r="2.5"/><circle cx="370.0" cy="24.2" r="2.5"/><circle cx="374.4" cy="27.3" r="2.5"/><circle cx="378.9" cy="26.8" r="2.5"/><circle cx="383.4" cy="29.0" r="2.5"/><circle cx="387.3" cy="30.7" r="2.5"/><circle cx="392.8" cy="31.2" r="2.5"/><circle cx="397.3" cy="32.3" r="2.5"/><circle cx="401.8" cy="32.9" r="2.5"/><circle cx="406.3" cy="32.5" r="2.5"/><circle cx="410.8" cy="31.2" r="2.5"/><circle cx="415.2" cy="30.3" r="2.5"/><circle cx="420.3" cy="30.6" r="2.5"/><circle cx="424.8" cy="31.2" r="2.5"/><circle cx="429.2" cy="33.2" r="2.5"/><circle cx="433.7" cy="34.6" r="2.5"/><circle cx="438.8" cy="31.8" r="2.5"/><circle cx="443.2" cy="37.9" r="2.5"/><circle cx="447.7" cy="34.0" r="2.5"/><circle cx="452.2" cy="32.9" r="2.5"/><circle cx="457.2" cy="35.9" r="2.5"/><circle cx="461.7" cy="34.2" r="2.5"/><circle cx="466.2" cy="32.9" r="2.5"/><circle cx="471.1" cy="31.0" r="2.5"/><circle cx="475.5" cy="26.8" r="2.5"/><circle cx="480.3" cy="22.4" r="2.5"/><circle cx="485.2" cy="35.4" r="2.5"/><circle cx="489.5" cy="33.3" r="2.5"/><circle cx="494.1" cy="48.8" r="2.5"/><circle cx="498.6" cy="32.1" r="2.5"/><circle cx="503.5" cy="40.2" r="2.5"/><circle cx="507.8" cy="38.1" r="2.5"/><circle cx="512.7" cy="39.4" r="2.5"/><circle cx="517.0" cy="40.2" r="2.5"/><circle cx="521.9" cy="40.2" r="2.5"/><circle cx="526.4" cy="37.5" r="2.5"/><circle cx="531.3" cy="43.5" r="2.5"/><circle cx="535.8" cy="42.7" r="2.5"/><circle cx="540.2" cy="44.3" r="2.5"/><circle cx="545.0" cy="43.5" r="2.5"/><circle cx="549.6" cy="43.6" r="2.5"/><circle cx="554.1" cy="44.1" r="2.5"/><circle cx="559.0" cy="44.4" r="2.5"/><circle cx="563.4" cy="45.7" r="2.5"/><circle cx="567.4" cy="50.1" r="2.5"/><circle cx="572.3" cy="47.7" r="2.5"/><circle cx="576.8" cy="43.6" r="2.5"/><circle cx="581.7" cy="47.7" r="2.5"/><circle cx="586.0" cy="47.7" r="2.5"/><circle cx="590.9" cy="43.1" r="2.5"/><circle cx="595.2" cy="49.3" r="2.5"/><circle cx="599.8" cy="50.6" r="2.5"/><circle cx="604.3" cy="52.5" r="2.5"/><circle cx="609.2" cy="50.6" r="2.5"/><circle cx="613.5" cy="48.0" r="2.5"/><circle cx="618.3" cy="48.7" r="2.5"/><circle cx="622.8" cy="54.4" r="2.5"/><circle cx="627.1" cy="53.9" r="2.5"/><circle cx="632.0" cy="52.1" r="2.5"/><circle cx="636.7" cy="54.9" r="2.5"/><circle cx="641.5" cy="49.0" r="2.5"/><circle cx="645.6" cy="55.7" r="2.5"/><circle cx="650.9" cy="52.1" r="2.5"/><circle cx="655.1" cy="55.1" r="2.5"/><circle cx="660.0" cy="54.5" r="2.5"/><circle cx="664.3" cy="56.3" r="2.5"/><circle cx="668.5" cy="58.8" r="2.5"/><circle cx="673.2" cy="59.4" r="2.5"/><circle cx="678.3" cy="57.6" r="2.5"/><circle cx="682.6" cy="58.8" r="2.5"/><circle cx="54.5" cy="16.7" r="2.5"/><circle cx="59.1" cy="19.0" r="2.5"/><circle cx="63.7" cy="17.6" r="2.5"/><circle cx="68.3" cy="18.9" r="2.5"/><circle cx="72.9" cy="17.7" r="2.5"/><circle cx="105.1" cy="19.4" r="2.5"/><circle cx="109.7" cy="20.1" r="2.5"/><circle cx="114.3" cy="19.4" r="2.5"/><circle cx="118.9" cy="19.7" r="2.5"/><circle cx="128.1" cy="20.0" r="2.5"/><circle cx="146.5" cy="20.3" r="2.5"/><circle cx="155.7" cy="20.4" r="2.5"/></g>
<path d="M53.0,18.73 L60.1,19.49 L67.2,20.26 L74.2,21.03 L81.3,21.80 L88.4,22.57 L95.5,23.35 L102.6,24.13 L109.7,24.90 L116.7,25.68 L123.8,26.47 L130.9,27.25 L138.0,28.04 L145.1,28.83 L152.2,29.62 L159.2,30.41 L166.3,31.20 L173.4,32.00 L180.5,32.80 L187.6,33.60 L194.7,34.40 L201.7,35.21 L208.8,36.01 L215.9,36.82 L223.0,37.63 L230.1,38.44 L237.2,39.26 L244.2,40.07 L251.3,40.89 L258.4,41.71 L265.5,42.53 L272.6,43.36 L279.7,44.19 L286.7,45.01 L293.8,45.84 L300.9,46.68 L308.0,47.51 L315.1,48.35 L322.2,49.19 L329.2,50.03 L336.3,50.87 L343.4,51.71 L350.5,52.56 L357.6,53.41 L364.7,54.26 L371.7,55.11 L378.8,55.97 L385.9,56.82 L393.0,57.68 L400.1,58.54 L407.2,59.40 L414.2,60.27 L421.3,61.14 L428.4,62.01 L435.5,62.88 L442.6,63.75 L449.7,64.62 L456.7,65.50 L463.8,66.38 L470.9,67.26 L478.0,68.15 L485.1,69.03 L492.2,69.92 L499.2,70.81 L506.3,71.70 L513.4,72.59 L520.5,73.49 L527.6,74.39 L534.7,75.29 L541.7,76.19 L548.8,77.09 L555.9,78.00 L563.0,78.91 L570.1,79.82 L577.2,80.73 L584.2,81.65 L591.3,82.56 L598.4,83.48 L605.5,84.40 L612.6,85.33 L619.7,86.25 L626.7,87.18 L633.8,88.11 L640.9,89.04 L648.0,89.97 L655.1,90.91 L662.2,91.85 L669.2,92.79 L676.3,93.73 L683.4,94.68" fill="none" stroke="#8c3c0a" stroke-width="2"/>
<path d="M53.0,22.43 L60.1,23.54 L67.2,24.69 L74.2,25.89 L81.3,27.12 L88.4,28.39 L95.5,29.69 L102.6,31.03 L109.7,32.41 L116.7,33.81 L123.8,35.25 L130.9,36.72 L138.0,38.21 L145.1,39.74 L152.2,41.28 L159.2,42.86 L166.3,44.45 L173.4,46.07 L180.5,47.71 L187.6,49.36 L194.7,51.03 L201.7,52.72 L208.8,54.43 L215.9,56.15 L223.0,57.88 L230.1,59.62 L237.2,61.37 L244.2,63.12 L251.3,64.89 L258.4,66.66 L265.5,68.43 L272.6,70.21 L279.7,71.99 L286.7,73.76 L293.8,75.54 L300.9,77.31 L308.0,79.08 L315.1,80.84 L322.2,82.60 L329.2,84.35 L336.3,86.09 L343.4,87.82 L350.5,89.53 L357.6,91.23 L364.7,92.92 L371.7,94.59 L378.8,96.25 L385.9,97.88 L393.0,99.49 L400.1,101.09 L407.2,102.65 L414.2,104.20 L421.3,105.72 L428.4,107.21 L435.5,108.67 L442.6,110.11 L449.7,111.51 L456.7,112.88 L463.8,114.21 L470.9,115.51 L478.0,116.78 L485.1,118.00 L492.2,119.19 L499.2,120.34 L506.3,121.44 L513.4,122.50 L520.5,123.52 L527.6,124.49 L534.7,125.41 L541.7,126.28 L548.8,127.11 L555.9,127.88 L563.0,128.60 L570.1,129.26 L577.2,129.87 L584.2,130.42 L591.3,130.92 L598.4,131.35 L605.5,131.73 L612.6,132.04 L619.7,132.29 L626.7,132.47 L633.8,132.59 L640.9,132.63 L648.0,132.61 L655.1,132.52 L662.2,132.36 L669.2,132.13 L676.3,131.82 L683.4,131.43" fill="none" stroke="#a0204a" stroke-width="2"/>
<path d="M53.0,18.02 L60.1,19.23 L67.2,20.59 L74.2,22.10 L81.3,23.75 L88.4,25.55 L95.5,27.48 L102.6,29.54 L109.7,31.73 L116.7,34.05 L123.8,36.49 L130.9,39.05 L138.0,41.73 L145.1,44.52 L152.2,47.41 L159.2,50.41 L166.3,53.51 L173.4,56.71 L180.5,60.00 L187.6,63.39 L194.7,66.85 L201.7,70.40 L208.8,74.03 L215.9,77.73 L223.0,81.51 L230.1,85.35 L237.2,89.26 L244.2,93.23 L251.3,97.25 L258.4,101.33 L265.5,105.45 L272.6,109.62 L279.7,113.84 L286.7,118.09 L293.8,122.37 L300.9,126.69 L308.0,131.04 L315.1,135.40 L322.2,139.79 L329.2,144.20 L336.3,148.61 L343.4,153.04 L350.5,157.47 L357.6,161.90 L364.7,166.33 L371.7,170.76 L378.8,175.17 L385.9,179.57 L393.0,183.96 L400.1,188.33 L407.2,192.67 L414.2,196.98 L421.3,201.27 L428.4,205.52 L435.5,209.73 L442.6,213.90 L449.7,218.02 L456.7,222.10 L463.8,226.12 L470.9,230.09 L478.0,234.00 L485.1,237.85 L492.2,241.63 L499.2,245.34 L506.3,248.98 L513.4,252.54 L520.5,256.02 L527.6,259.42 L534.7,262.73 L541.7,265.95 L548.8,269.08 L555.9,272.11 L563.0,275.04 L570.1,277.87 L577.2,280.59 L584.2,283.20 L591.3,285.69 L598.4,288.07 L605.5,290.33 L612.6,292.47 L619.7,294.48 L626.7,296.36 L633.8,298.11 L640.9,299.72 L648.0,301.19 L655.1,302.53 L662.2,303.71 L669.2,304.75 L676.3,305.64 L683.4,306.37" fill="none" stroke="#c4461a" stroke-width="2"/>
<path d="M53.0,14.44 L60.1,15.29 L67.2,16.16 L74.2,17.04 L81.3,17.94 L88.4,18.85 L95.5,19.78 L102.6,20.73 L109.7,21.70 L116.7,22.69 L123.8,23.70 L130.9,24.74 L138.0,25.79 L145.1,26.88 L152.2,27.99 L159.2,29.12 L166.3,30.28 L173.4,31.47 L180.5,32.69 L187.6,33.93 L194.7,35.21 L201.7,36.51 L208.8,37.85 L215.9,39.21 L223.0,40.60 L230.1,42.03 L237.2,43.49 L244.2,44.98 L251.3,46.50 L258.4,48.05 L265.5,49.63 L272.6,51.25 L279.7,52.89 L286.7,54.57 L293.8,56.28 L300.9,58.02 L308.0,59.79 L315.1,61.59 L322.2,63.42 L329.2,65.28 L336.3,67.17 L343.4,69.09 L350.5,71.04 L357.6,73.01 L364.7,75.02 L371.7,77.04 L378.8,79.10 L385.9,81.17 L393.0,83.28 L400.1,85.40 L407.2,87.55 L414.2,89.72 L421.3,91.90 L428.4,94.11 L435.5,96.34 L442.6,98.58 L449.7,100.83 L456.7,103.11 L463.8,105.39 L470.9,107.68 L478.0,109.99 L485.1,112.30 L492.2,114.63 L499.2,116.95 L506.3,119.28 L513.4,121.62 L520.5,123.95 L527.6,126.28 L534.7,128.61 L541.7,130.94 L548.8,133.25 L555.9,135.56 L563.0,137.86 L570.1,140.15 L577.2,142.42 L584.2,144.67 L591.3,146.91 L598.4,149.12 L605.5,151.31 L612.6,153.48 L619.7,155.61 L626.7,157.72 L633.8,159.79 L640.9,161.83 L648.0,163.83 L655.1,165.78 L662.2,167.70 L669.2,169.56 L676.3,171.38 L683.4,173.15" fill="none" stroke="#ef6a4e" stroke-width="2"/>
<path d="M53.0,22.82 L60.1,23.42 L67.2,24.08 L74.2,24.79 L81.3,25.55 L88.4,26.37 L95.5,27.23 L102.6,28.14 L109.7,29.10 L116.7,30.11 L123.8,31.16 L130.9,32.25 L138.0,33.39 L145.1,34.56 L152.2,35.78 L159.2,37.03 L166.3,38.32 L173.4,39.64 L180.5,40.99 L187.6,42.38 L194.7,43.80 L201.7,45.24 L208.8,46.71 L215.9,48.21 L223.0,49.74 L230.1,51.28 L237.2,52.85 L244.2,54.44 L251.3,56.05 L258.4,57.67 L265.5,59.31 L272.6,60.97 L279.7,62.64 L286.7,64.32 L293.8,66.01 L300.9,67.71 L308.0,69.42 L315.1,71.14 L322.2,72.86 L329.2,74.58 L336.3,76.30 L343.4,78.03 L350.5,79.75 L357.6,81.48 L364.7,83.19 L371.7,84.91 L378.8,86.61 L385.9,88.31 L393.0,90.00 L400.1,91.68 L407.2,93.35 L414.2,95.00 L421.3,96.64 L428.4,98.26 L435.5,99.87 L442.6,101.45 L449.7,103.02 L456.7,104.56 L463.8,106.08 L470.9,107.57 L478.0,109.04 L485.1,110.48 L492.2,111.89 L499.2,113.27 L506.3,114.62 L513.4,115.93 L520.5,117.21 L527.6,118.46 L534.7,119.66 L541.7,120.83 L548.8,121.96 L555.9,123.04 L563.0,124.09 L570.1,125.08 L577.2,126.03 L584.2,126.94 L591.3,127.79 L598.4,128.60 L605.5,129.35 L612.6,130.05 L619.7,130.69 L626.7,131.28 L633.8,131.81 L640.9,132.29 L648.0,132.70 L655.1,133.05 L662.2,133.34 L669.2,133.56 L676.3,133.72 L683.4,133.81" fill="none" stroke="#f68c4c" stroke-width="2"/>
<path d="M53.0,21.64 L60.1,21.68 L67.2,21.77 L74.2,21.91 L81.3,22.10 L88.4,22.34 L95.5,22.62 L102.6,22.95 L109.7,23.33 L116.7,23.75 L123.8,24.22 L130.9,24.72 L138.0,25.27 L145.1,25.85 L152.2,26.48 L159.2,27.14 L166.3,27.83 L173.4,28.57 L180.5,29.33 L187.6,30.13 L194.7,30.95 L201.7,31.81 L208.8,32.70 L215.9,33.61 L223.0,34.55 L230.1,35.51 L237.2,36.50 L244.2,37.52 L251.3,38.55 L258.4,39.60 L265.5,40.68 L272.6,41.77 L279.7,42.88 L286.7,44.00 L293.8,45.14 L300.9,46.29 L308.0,47.46 L315.1,48.64 L322.2,49.82 L329.2,51.02 L336.3,52.22 L343.4,53.43 L350.5,54.64 L357.6,55.86 L364.7,57.09 L371.7,58.31 L378.8,59.53 L385.9,60.76 L393.0,61.98 L400.1,63.20 L407.2,64.41 L414.2,65.62 L421.3,66.83 L428.4,68.03 L435.5,69.21 L442.6,70.39 L449.7,71.56 L456.7,72.71 L463.8,73.85 L470.9,74.98 L478.0,76.09 L485.1,77.19 L492.2,78.26 L499.2,79.32 L506.3,80.36 L513.4,81.37 L520.5,82.36 L527.6,83.33 L534.7,84.28 L541.7,85.19 L548.8,86.08 L555.9,86.94 L563.0,87.78 L570.1,88.58 L577.2,89.34 L584.2,90.08 L591.3,90.78 L598.4,91.45 L605.5,92.08 L612.6,92.67 L619.7,93.22 L626.7,93.73 L633.8,94.20 L640.9,94.63 L648.0,95.01 L655.1,95.35 L662.2,95.64 L669.2,95.89 L676.3,96.09 L683.4,96.23" fill="none" stroke="#fcd38e" stroke-width="2"/>
<path d="M53.0,24.40 L60.1,24.66 L67.2,24.97 L74.2,25.33 L81.3,25.75 L88.4,26.21 L95.5,26.73 L102.6,27.29 L109.7,27.90 L116.7,28.55 L123.8,29.24 L130.9,29.98 L138.0,30.75 L145.1,31.57 L152.2,32.42 L159.2,33.30 L166.3,34.23 L173.4,35.18 L180.5,36.17 L187.6,37.19 L194.7,38.24 L201.7,39.31 L208.8,40.41 L215.9,41.54 L223.0,42.69 L230.1,43.86 L237.2,45.06 L244.2,46.27 L251.3,47.51 L258.4,48.75 L265.5,50.02 L272.6,51.30 L279.7,52.59 L286.7,53.90 L293.8,55.21 L300.9,56.53 L308.0,57.86 L315.1,59.20 L322.2,60.54 L329.2,61.89 L336.3,63.23 L343.4,64.58 L350.5,65.93 L357.6,67.27 L364.7,68.61 L371.7,69.95 L378.8,71.28 L385.9,72.60 L393.0,73.92 L400.1,75.22 L407.2,76.51 L414.2,77.79 L421.3,79.06 L428.4,80.31 L435.5,81.54 L442.6,82.75 L449.7,83.95 L456.7,85.12 L463.8,86.27 L470.9,87.40 L478.0,88.50 L485.1,89.57 L492.2,90.62 L499.2,91.64 L506.3,92.63 L513.4,93.58 L520.5,94.50 L527.6,95.39 L534.7,96.24 L541.7,97.06 L548.8,97.83 L555.9,98.57 L563.0,99.26 L570.1,99.91 L577.2,100.52 L584.2,101.08 L591.3,101.59 L598.4,102.06 L605.5,102.47 L612.6,102.84 L619.7,103.15 L626.7,103.41 L633.8,103.61 L640.9,103.76 L648.0,103.85 L655.1,103.88 L662.2,103.85 L669.2,103.76 L676.3,103.60 L683.4,103.38" fill="none" stroke="#cde6b0" stroke-width="2"/>
<path d="M53.0,18.23 L60.1,18.37 L67.2,18.52 L74.2,18.66 L81.3,18.80 L88.4,18.95 L95.5,19.10 L102.6,19.25 L109.7,19.40 L116.7,19.55 L123.8,19.70 L130.9,19.86 L138.0,20.02 L145.1,20.18 L152.2,20.35 L159.2,20.52 L166.3,20.69 L173.4,20.87 L180.5,21.05 L187.6,21.23 L194.7,21.42 L201.7,21.62 L208.8,21.82 L215.9,22.02 L223.0,22.24 L230.1,22.45 L237.2,22.68 L244.2,22.91 L251.3,23.14 L258.4,23.39 L265.5,23.64 L272.6,23.89 L279.7,24.16 L286.7,24.43 L293.8,24.71 L300.9,25.00 L308.0,25.30 L315.1,25.61 L322.2,25.93 L329.2,26.25 L336.3,26.59 L343.4,26.93 L350.5,27.29 L357.6,27.65 L364.7,28.03 L371.7,28.41 L378.8,28.81 L385.9,29.22 L393.0,29.64 L400.1,30.07 L407.2,30.51 L414.2,30.97 L421.3,31.44 L428.4,31.92 L435.5,32.41 L442.6,32.92 L449.7,33.44 L456.7,33.98 L463.8,34.52 L470.9,35.09 L478.0,35.66 L485.1,36.25 L492.2,36.86 L499.2,37.48 L506.3,38.12 L513.4,38.77 L520.5,39.44 L527.6,40.12 L534.7,40.83 L541.7,41.54 L548.8,42.28 L555.9,43.03 L563.0,43.80 L570.1,44.58 L577.2,45.39 L584.2,46.21 L591.3,47.05 L598.4,47.91 L605.5,48.78 L612.6,49.68 L619.7,50.60 L626.7,51.53 L633.8,52.49 L640.9,53.46 L648.0,54.46 L655.1,55.47 L662.2,56.51 L669.2,57.57 L676.3,58.65 L683.4,59.75" fill="none" stroke="#7ec7a3" stroke-width="2"/>
<g fill="#d23950"><circle cx="65.7" cy="10.2" r="2.5"/><circle cx="144.1" cy="49.8" r="2.5"/><circle cx="148.5" cy="52.8" r="2.5"/><circle cx="153.6" cy="57.3" r="2.5"/><circle cx="157.9" cy="59.2" r="2.5"/><circle cx="162.7" cy="64.1" r="2.5"/><circle cx="167.6" cy="67.0" r="2.5"/><circle cx="171.8" cy="68.0" r="2.5"/><circle cx="181.2" cy="68.0" r="2.5"/><circle cx="186.0" cy="87.9" r="2.5"/><circle cx="186.6" cy="69.2" r="2.5"/><circle cx="189.9" cy="65.5" r="2.5"/><circle cx="194.7" cy="85.9" r="2.5"/><circle cx="199.2" cy="92.3" r="2.5"/><circle cx="203.9" cy="84.6" r="2.5"/><circle cx="208.9" cy="86.9" r="2.5"/><circle cx="213.4" cy="79.2" r="2.5"/><circle cx="217.9" cy="69.2" r="2.5"/><circle cx="222.5" cy="84.0" r="2.5"/><circle cx="227.2" cy="93.1" r="2.5"/><circle cx="232.2" cy="88.4" r="2.5"/><circle cx="241.3" cy="87.9" r="2.5"/><circle cx="246.2" cy="93.1" r="2.5"/><circle cx="250.1" cy="95.0" r="2.5"/><circle cx="254.9" cy="94.3" r="2.5"/><circle cx="259.8" cy="93.7" r="2.5"/><circle cx="264.1" cy="96.6" r="2.5"/><circle cx="268.5" cy="99.5" r="2.5"/><circle cx="273.4" cy="100.9" r="2.5"/><circle cx="277.7" cy="102.4" r="2.5"/><circle cx="282.3" cy="107.9" r="2.5"/><circle cx="287.0" cy="112.1" r="2.5"/><circle cx="291.8" cy="117.6" r="2.5"/><circle cx="296.3" cy="114.1" r="2.5"/><circle cx="301.0" cy="122.8" r="2.5"/><circle cx="305.4" cy="124.8" r="2.5"/><circle cx="310.1" cy="128.8" r="2.5"/><circle cx="314.6" cy="131.7" r="2.5"/><circle cx="319.4" cy="127.1" r="2.5"/><circle cx="323.9" cy="131.7" r="2.5"/><circle cx="328.7" cy="142.6" r="2.5"/><circle cx="333.4" cy="138.2" r="2.5"/><circle cx="337.9" cy="140.1" r="2.5"/><circle cx="342.3" cy="146.9" r="2.5"/><circle cx="347.0" cy="144.0" r="2.5"/><circle cx="351.5" cy="151.2" r="2.5"/><circle cx="356.3" cy="159.5" r="2.5"/><circle cx="361.2" cy="160.9" r="2.5"/><circle cx="365.6" cy="162.8" r="2.5"/><circle cx="370.3" cy="164.4" r="2.5"/><circle cx="374.8" cy="166.7" r="2.5"/><circle cx="379.2" cy="176.4" r="2.5"/><circle cx="383.9" cy="176.0" r="2.5"/><circle cx="388.3" cy="181.5" r="2.5"/><circle cx="393.2" cy="183.4" r="2.5"/><circle cx="397.5" cy="185.7" r="2.5"/><circle cx="401.7" cy="193.3" r="2.5"/><circle cx="406.5" cy="193.7" r="2.5"/><circle cx="411.4" cy="194.9" r="2.5"/><circle cx="415.6" cy="198.2" r="2.5"/><circle cx="420.5" cy="204.6" r="2.5"/><circle cx="425.0" cy="208.8" r="2.5"/><circle cx="429.8" cy="210.8" r="2.5"/><circle cx="434.3" cy="216.0" r="2.5"/><circle cx="438.9" cy="220.5" r="2.5"/><circle cx="443.6" cy="225.3" r="2.5"/><circle cx="448.3" cy="226.7" r="2.5"/><circle cx="453.1" cy="221.5" r="2.5"/><circle cx="457.6" cy="222.4" r="2.5"/><circle cx="462.2" cy="232.5" r="2.5"/><circle cx="466.7" cy="233.7" r="2.5"/><circle cx="471.2" cy="235.6" r="2.5"/><circle cx="475.4" cy="237.0" r="2.5"/><circle cx="480.1" cy="230.6" r="2.5"/><circle cx="484.8" cy="242.8" r="2.5"/><circle cx="494.3" cy="248.1" r="2.5"/><circle cx="498.6" cy="239.0" r="2.5"/><circle cx="503.3" cy="254.6" r="2.5"/><circle cx="508.2" cy="247.2" r="2.5"/><circle cx="512.6" cy="255.9" r="2.5"/><circle cx="517.3" cy="254.6" r="2.5"/><circle cx="521.7" cy="254.6" r="2.5"/><circle cx="526.6" cy="256.5" r="2.5"/><circle cx="530.9" cy="261.2" r="2.5"/><circle cx="535.9" cy="260.8" r="2.5"/><circle cx="540.2" cy="266.2" r="2.5"/><circle cx="545.0" cy="265.0" r="2.5"/><circle cx="549.5" cy="267.6" r="2.5"/><circle cx="554.2" cy="269.5" r="2.5"/><circle cx="558.6" cy="273.4" r="2.5"/><circle cx="563.5" cy="275.3" r="2.5"/><circle cx="567.8" cy="280.6" r="2.5"/><circle cx="572.2" cy="273.4" r="2.5"/><circle cx="576.7" cy="271.5" r="2.5"/><circle cx="581.4" cy="279.2" r="2.5"/><circle cx="585.8" cy="285.6" r="2.5"/><circle cx="590.8" cy="293.7" r="2.5"/><circle cx="595.1" cy="285.0" r="2.5"/><circle cx="600.2" cy="289.2" r="2.5"/><circle cx="604.8" cy="289.2" r="2.5"/><circle cx="609.3" cy="290.4" r="2.5"/><circle cx="613.7" cy="302.0" r="2.5"/><circle cx="618.4" cy="293.7" r="2.5"/><circle cx="622.9" cy="303.4" r="2.5"/><circle cx="627.7" cy="298.9" r="2.5"/><circle cx="632.0" cy="310.2" r="2.5"/><circle cx="637.0" cy="302.8" r="2.5"/><circle cx="641.3" cy="298.2" r="2.5"/><circle cx="646.2" cy="304.0" r="2.5"/><circle cx="650.6" cy="295.6" r="2.5"/><circle cx="655.3" cy="293.7" r="2.5"/><circle cx="660.3" cy="299.5" r="2.5"/><circle cx="664.6" cy="300.9" r="2.5"/><circle cx="668.9" cy="300.1" r="2.5"/><circle cx="673.9" cy="301.5" r="2.5"/><circle cx="678.6" cy="304.4" r="2.5"/><circle cx="683.1" cy="306.3" r="2.5"/></g></g>
<rect x="53.0" y="0.75" width="630.6" height="353.25" fill="none" stroke="#000" stroke-width="1.5"/>
<line x1="72" y1="297.7" x2="121" y2="297.7" stroke="#8c3b0c" stroke-width="2"/><text x="125.7" y="304.9" class="lg">P1</text><line x1="147" y1="297.7" x2="196" y2="297.7" stroke="#9e1c4a" stroke-width="2"/><text x="200.7" y="304.9" class="lg">P2</text><line x1="222" y1="297.7" x2="271" y2="297.7" stroke="#c4441c" stroke-width="2"/><text x="275.7" y="304.9" class="lg">P3</text><line x1="297" y1="297.7" x2="346" y2="297.7" stroke="#ec6b4e" stroke-width="2"/><text x="350.7" y="304.9" class="lg">P4</text><line x1="72" y1="323.59999999999997" x2="121" y2="323.59999999999997" stroke="#f99250" stroke-width="2"/><text x="125.7" y="330.79999999999995" class="lg">P5</text><line x1="147" y1="323.59999999999997" x2="196" y2="323.59999999999997" stroke="#fcd58e" stroke-width="2"/><text x="200.7" y="330.79999999999995" class="lg">P6</text><line x1="222" y1="323.59999999999997" x2="271" y2="323.59999999999997" stroke="#cfe8b4" stroke-width="2"/><text x="275.7" y="330.79999999999995" class="lg">P7</text><line x1="297" y1="323.59999999999997" x2="346" y2="323.59999999999997" stroke="#80c9a6" stroke-width="2"/><text x="350.7" y="330.79999999999995" class="lg">P8</text>
<text x="42" y="22.90" text-anchor="end" class="tk">0</text><text x="42" y="123.90" text-anchor="end" class="tk">-30</text><text x="42" y="224.90" text-anchor="end" class="tk">-60</text><text x="42" y="325.90" text-anchor="end" class="tk">-90</text><text x="52.9" y="378.6" text-anchor="middle" class="tk">2017/6/30</text><text x="192.6" y="378.6" text-anchor="middle" class="tk">2018/6/30</text><text x="332.6" y="378.6" text-anchor="middle" class="tk">2019/6/30</text><text x="472.9" y="378.6" text-anchor="middle" class="tk">2020/6/30</text><text x="612.6" y="378.6" text-anchor="middle" class="tk">2021/6/30</text><text x="362" y="400.8" text-anchor="middle" class="tt">Date</text><text transform="translate(14.4,177.4) rotate(-90)" text-anchor="middle" class="yt">Accumulated Subsidence(cm)</text>
</svg></body></html>
